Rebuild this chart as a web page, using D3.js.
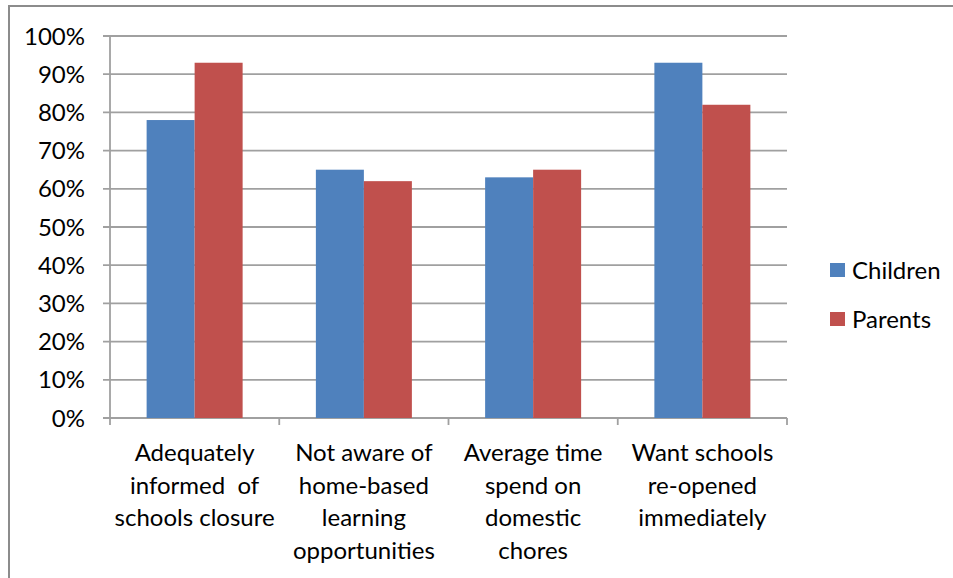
<!DOCTYPE html>
<html><head><meta charset="utf-8">
<script src="https://cdn.jsdelivr.net/npm/d3@7"></script>
<style>body{margin:0;background:#fff}svg{display:block}text{font-family:Lato,sans-serif;fill:#000;white-space:pre}</style>
</head><body><svg width="953" height="578"></svg>
<script>
const categories = [
  ["Adequately", "informed  of", "schools closure"],
  ["Not aware of", "home-based", "learning", "opportunities"],
  ["Average time", "spend on", "domestic", "chores"],
  ["Want schools", "re-opened", "immediately"]
];
const seriesNames = ["Children", "Parents"];
const children = [78, 65, 63, 93];
const parents = [93, 62, 65, 82];
const yTicks = [0,10,20,30,40,50,60,70,80,90,100];
const colors = ["#4f81bd", "#c0504d"];

const svg = d3.select("svg");
svg.append("rect").attr("x",9).attr("y",6).attr("width",960).attr("height",600)
  .attr("fill","none").attr("stroke","#8c8c8c").attr("stroke-width",2);

const m = {l:110, r:787, t:36, b:418};
const x = d3.scaleBand().domain(d3.range(categories.length)).range([m.l, m.r]).paddingInner(0).paddingOuter(0);
const y = d3.scaleLinear().domain([0,100]).range([m.b, m.t]);

const fs = 24;
// gridlines
svg.append("g").selectAll("line").data(yTicks).join("line")
  .attr("x1", m.l-7).attr("x2", m.r).attr("y1", d=>y(d)).attr("y2", d=>y(d))
  .attr("stroke","#a0a0a0").attr("stroke-width",1.8);
// y axis line
svg.append("line").attr("x1",m.l).attr("x2",m.l).attr("y1",m.t).attr("y2",m.b)
  .attr("stroke","#a0a0a0").attr("stroke-width",1.8);
// x ticks
const xt = d3.range(categories.length+1).map(i=> i<categories.length ? x(i) : m.r);
svg.append("g").selectAll("line").data(xt).join("line")
  .attr("x1",d=>d).attr("x2",d=>d).attr("y1",m.b).attr("y2",m.b+7)
  .attr("stroke","#a0a0a0").attr("stroke-width",1.8);

// y labels
svg.append("g").selectAll("text").data(yTicks).join("text")
  .attr("x", 85).attr("y", d=>y(d)).attr("dy","0.36em").attr("text-anchor","end")
  .attr("font-size",fs).text(d=>d+"%");

// bars
const bw = 48;
const data = [children, parents];
data.forEach((vals, s) => {
  svg.append("g").selectAll("rect").data(vals).join("rect")
    .attr("x",(d,i)=> x(i)+x.bandwidth()/2 - bw + s*bw)
    .attr("width",bw)
    .attr("y",d=>y(d)).attr("height",d=>y(0)-y(d))
    .attr("fill",colors[s]);
});

// category labels
categories.forEach((lines,i)=>{
  const t = svg.append("text").attr("text-anchor","middle").attr("font-size",fs);
  lines.forEach((ln,j)=>{
    t.append("tspan").attr("x", x(i)+x.bandwidth()/2).attr("y", 461 + j*32.5).text(ln);
  });
});

// legend
seriesNames.forEach((n,i)=>{
  const ly = 270 + i*49;
  svg.append("rect").attr("x",830).attr("y",ly-7).attr("width",15).attr("height",14).attr("fill",colors[i]);
  svg.append("text").attr("x",852).attr("y",ly).attr("dy","0.36em").attr("font-size",fs).text(n);
});
</script></body></html>
